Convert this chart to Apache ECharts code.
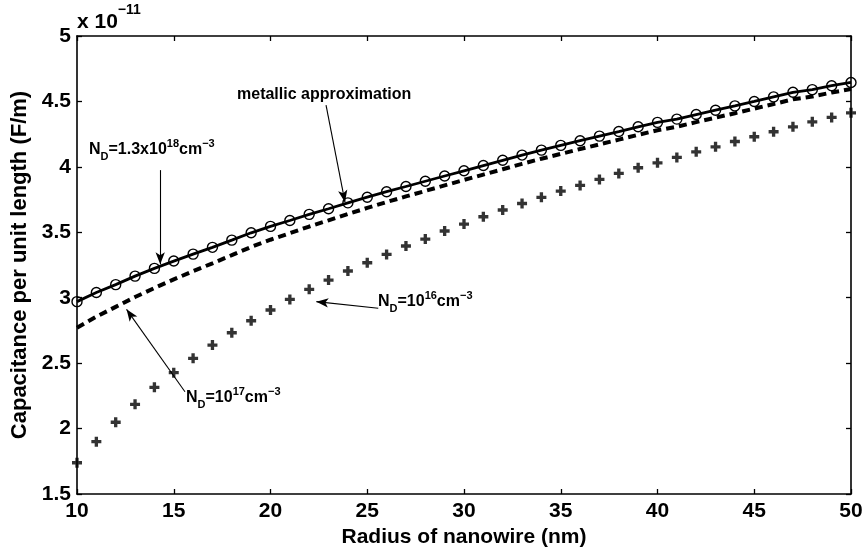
<!DOCTYPE html>
<html>
<head>
<meta charset="utf-8">
<script src="https://cdn.jsdelivr.net/npm/echarts@6/dist/echarts.min.js"></script>
<style>
html,body{margin:0;padding:0;background:#fff;}
#c{width:866px;height:554px;}
</style>
</head>
<body>
<div id="c"></div>
<script>
// Radius of nanowire (nm)
const radius = [10,11,12,13,14,15,16,17,18,19,20,21,22,23,24,25,26,27,28,29,30,
                31,32,33,34,35,36,37,38,39,40,41,42,43,44,45,46,47,48,49,50];
// Capacitance (x 1e-11 F/m) — metallic approximation (solid line, circles)
const metallic = [2.97,3.04,3.10,3.165,3.224,3.28,3.333,3.385,3.44,3.496,3.545,
                  3.59,3.637,3.68,3.725,3.768,3.81,3.85,3.89,3.93,3.97,
                  4.01,4.05,4.09,4.128,4.164,4.20,4.235,4.27,4.306,4.34,
                  4.365,4.40,4.433,4.466,4.50,4.535,4.57,4.59,4.62,4.645];
// N_D = 1e17 cm^-3 (dashed)
const nd17 = [2.77,2.855,2.93,3.005,3.074,3.14,3.203,3.263,3.325,3.388,3.443,
              3.493,3.544,3.591,3.64,3.686,3.731,3.774,3.816,3.858,3.90,
              3.941,3.982,4.023,4.062,4.099,4.136,4.172,4.208,4.245,4.28,
              4.306,4.342,4.376,4.41,4.445,4.48,4.516,4.537,4.568,4.595];
// N_D = 1e16 cm^-3 (plus markers)
const nd16 = [1.739,1.90,2.048,2.185,2.315,2.427,2.537,2.638,2.732,2.824,2.906,
              2.987,3.064,3.135,3.204,3.267,3.331,3.395,3.448,3.51,3.563,
              3.619,3.67,3.72,3.767,3.815,3.858,3.904,3.95,3.993,4.031,
              4.072,4.115,4.153,4.194,4.23,4.268,4.306,4.344,4.378,4.413];

const FONT = '"Liberation Sans", Arial, Helvetica, sans-serif';
const pairs = (ys) => radius.map((x, i) => [x, ys[i]]);

const chart = echarts.init(document.getElementById('c'), null, {renderer: 'canvas'});

const baseAxisStyle = {
  axisLine: {show: true, lineStyle: {color: '#000', width: 1.6}},
  axisTick: {show: true, inside: true, length: 5, lineStyle: {color: '#000', width: 1.3}},
  splitLine: {show: false}
};

const arrowStyle = {
  silent: true,
  symbol: ['none', 'arrow'],
  symbolSize: [7, 12],
  label: {show: false},
  lineStyle: {color: '#000', width: 1.1, type: 'solid'},
  animation: false
};

const richBase = {
  b: {fontFamily: FONT, fontSize: 16, fontWeight: 'bold', color: '#000', lineHeight: 24, verticalAlign: 'middle'},
  sup: {fontFamily: FONT, fontSize: 11, fontWeight: 'bold', color: '#000', lineHeight: 12, verticalAlign: 'top'},
  sub: {fontFamily: FONT, fontSize: 11, fontWeight: 'bold', color: '#000', lineHeight: 12, verticalAlign: 'bottom'}
};

const labelFont = {fontFamily: FONT, fontSize: 21, fontWeight: 'bold', color: '#000'};

chart.setOption({
  animation: false,
  backgroundColor: '#fff',
  grid: {left: 77, right: 15, top: 36, bottom: 60, containLabel: false},
  xAxis: [
    Object.assign({
      type: 'value', min: 10, max: 50, interval: 5, position: 'bottom',
      name: 'Radius of nanowire (nm)', nameLocation: 'middle', nameGap: 33,
      nameTextStyle: labelFont,
      axisLabel: Object.assign({margin: 7}, labelFont)
    }, baseAxisStyle),
    Object.assign({
      type: 'value', min: 10, max: 50, interval: 5, position: 'top',
      axisLabel: {show: false}
    }, baseAxisStyle)
  ],
  yAxis: [
    Object.assign({
      type: 'value', min: 1.5, max: 5, interval: 0.5, position: 'left',
      name: 'Capacitance per unit length (F/m)', nameLocation: 'middle', nameGap: 44,
      nameTextStyle: {fontFamily: FONT, fontSize: 22, fontWeight: 'bold', color: '#000'},
      axisLabel: Object.assign({margin: 6}, labelFont)
    }, baseAxisStyle),
    Object.assign({
      type: 'value', min: 1.5, max: 5, interval: 0.5, position: 'right',
      axisLabel: {show: false}
    }, baseAxisStyle)
  ],
  series: [
    {
      name: 'metallic', type: 'line', data: pairs(metallic),
      xAxisIndex: 0, yAxisIndex: 0,
      symbol: 'circle', symbolSize: 10, showSymbol: true,
      lineStyle: {color: '#000', width: 2.8},
      itemStyle: {color: 'rgba(255,255,255,0)', borderColor: '#000', borderWidth: 1.4},
      z: 3,
      markLine: Object.assign({
        data: [
          [{coord: [22.87, 4.472]}, {coord: [23.85, 3.73]}],
          [{coord: [14.3, 3.975]}, {coord: [14.3, 3.255]}]
        ]
      }, arrowStyle)
    },
    {
      name: 'ND17', type: 'line', data: pairs(nd17),
      xAxisIndex: 0, yAxisIndex: 0,
      showSymbol: false, symbol: 'none',
      lineStyle: {color: '#000', width: 4, type: [8, 5]},
      z: 2,
      markLine: Object.assign({
        data: [
          [{coord: [15.58, 2.281]}, {coord: [12.56, 2.911]}]
        ]
      }, arrowStyle)
    },
    {
      name: 'ND16', type: 'scatter', data: pairs(nd16),
      xAxisIndex: 0, yAxisIndex: 0,
      symbol: 'path://M3,0h3v3h3v3h-3v3h-3v-3h-3v-3h3z', symbolSize: 10,
      itemStyle: {color: '#000'},
      z: 2,
      markLine: Object.assign({
        data: [
          [{coord: [25.57, 2.919]}, {coord: [22.37, 2.97]}]
        ]
      }, arrowStyle)
    }
  ],
  graphic: [
    {
      type: 'text', left: 77, top: 3,
      style: {
        text: '{b|x 10}{sup|−11}',
        rich: {
          b: {fontFamily: FONT, fontSize: 21, fontWeight: 'bold', color: '#000', lineHeight: 30, verticalAlign: 'bottom'},
          sup: {fontFamily: FONT, fontSize: 14, fontWeight: 'bold', color: '#000', lineHeight: 18, verticalAlign: 'top'}
        }
      }
    },
    {
      type: 'text', left: 237, top: 87,
      style: {text: 'metallic approximation', font: 'bold 16px ' + FONT, fill: '#000'}
    },
    {
      type: 'text', left: 89, top: 138,
      style: {text: '{b|N}{sub|D}{b|=1.3x10}{sup|18}{b|cm}{sup|−3}', rich: richBase}
    },
    {
      type: 'text', left: 378, top: 290,
      style: {text: '{b|N}{sub|D}{b|=10}{sup|16}{b|cm}{sup|−3}', rich: richBase}
    },
    {
      type: 'text', left: 186, top: 386,
      style: {text: '{b|N}{sub|D}{b|=10}{sup|17}{b|cm}{sup|−3}', rich: richBase}
    }
  ]
});
</script>
</body>
</html>
